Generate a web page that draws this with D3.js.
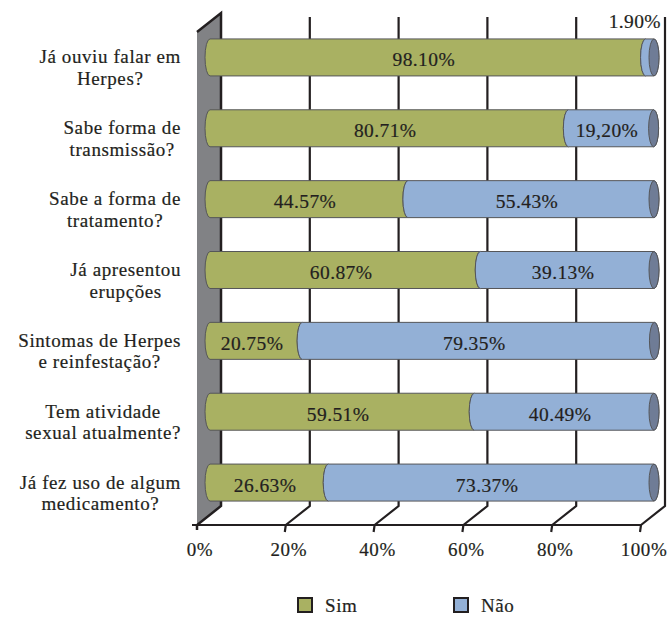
<!DOCTYPE html>
<html>
<head>
<meta charset="utf-8">
<script src="https://cdn.jsdelivr.net/npm/d3@7"></script>
<style>
  body { margin: 0; background: #fff; }
  svg text { font-family: "Liberation Serif", serif; fill: #231f20; stroke: #231f20; stroke-width: 0.2px; }
</style>
</head>
<body>
<div id="chart"></div>
<script>
// Category labels (two lines each)
const categories = [
    ['Já ouviu falar em', 'Herpes?'],
    ['Sabe forma de', 'transmissão?'],
    ['Sabe a forma de', 'tratamento?'],
    ['Já apresentou', 'erupções'],
    ['Sintomas de Herpes', 'e reinfestação?'],
    ['Tem atividade', 'sexual atualmente?'],
    ['Já fez uso de algum', 'medicamento?']
];
const simValues = [98.10, 80.71, 44.57, 60.87, 20.75, 59.51, 26.63];
const naoValues = [1.90, 19.20, 55.43, 39.13, 79.35, 40.49, 73.37];
const simLabels = ['98.10%', '80.71%', '44.57%', '60.87%', '20.75%', '59.51%', '26.63%'];
const naoLabels = ['1.90%', '19,20%', '55.43%', '39.13%', '79.35%', '40.49%', '73.37%'];
const xTicks = [0, 20, 40, 60, 80, 100];
const xTickLabels = ['0%', '20%', '40%', '60%', '80%', '100%'];
const seriesNames = ['Sim', 'Não'];

const colors = { sim: '#a9b162', nao: '#93b0d6', cap: '#6f7c96', wall: '#818285', ink: '#231f20', edge: '#555659' };

const width = 667, height = 617;
// 3D depth offsets: back plane and bar mid plane, relative to the front plane
const DX = 24, DY = -19;
const BX = 13, BY = -11;
const floorY = 525;
const wallTop = 32;

const svg = d3.select('#chart').append('svg')
    .attr('width', width)
    .attr('height', height);

const x = d3.scaleLinear().domain([0, 100]).range([197, 641]);
const y = d3.scaleBand()
    .domain(d3.range(categories.length))
    .range([33, 529])
    .paddingInner(0.478)
    .paddingOuter(0.239);

const rows = categories.map((c, i) => ({ i: i, sim: simValues[i], nao: naoValues[i] }));
const stack = d3.stack().keys(['sim', 'nao'])(rows);

// Gridlines on back wall + diagonal onto the floor + small front tick
const grid = svg.append('g');
xTicks.slice(1).forEach(t => {
    const xf = x(t), xb = x(t) + DX;
    grid.append('path')
        .attr('d', `M${xb},17 L${xb},${floorY + DY} L${xf},${floorY} L${xf - 1},${floorY + 7}`)
        .attr('fill', 'none')
        .attr('stroke', colors.ink)
        .attr('stroke-width', 2.2);
});

// Floor front edge
svg.append('line')
    .attr('x1', x(0) - 5).attr('x2', x(100))
    .attr('y1', floorY).attr('y2', floorY)
    .attr('stroke', colors.ink)
    .attr('stroke-width', 2.2);

// Left wall
svg.append('path')
    .attr('d', `M${x(0)},${wallTop} L${x(0) + DX},${wallTop + DY} L${x(0) + DX},${floorY + DY} L${x(0)},${floorY} L${x(0)},${floorY + 5}`)
    .attr('fill', colors.wall)
    .attr('stroke', colors.ink)
    .attr('stroke-width', 2.5)
    .attr('stroke-linejoin', 'miter');

// Cylinder segments
const ry = y.bandwidth() / 2;
const rx = 5;
function segPath(x0, x1, cy, last) {
    return `M${x0},${cy - ry} L${x1},${cy - ry} A${rx},${ry} 0 0 ${last ? 1 : 0} ${x1},${cy + ry}` +
        ` L${x0},${cy + ry} A${rx},${ry} 0 0 1 ${x0},${cy - ry} Z`;
}

const bars = svg.append('g');
stack.forEach((layer, li) => {
    const last = li === stack.length - 1;
    layer.forEach((d, i) => {
        const cy = y(i) + ry + BY;
        const x0 = x(d[0]) + BX, x1 = x(d[1]) + BX;
        bars.append('path')
            .attr('d', segPath(x0, x1, cy, last))
            .attr('fill', li === 0 ? colors.sim : colors.nao)
            .attr('stroke', colors.edge)
            .attr('stroke-width', 1);
        if (last) {
            bars.append('ellipse')
                .attr('cx', x1).attr('cy', cy)
                .attr('rx', rx).attr('ry', ry)
                .attr('fill', colors.cap)
                .attr('stroke', colors.edge)
                .attr('stroke-width', 1);
        }
    });
});

// Value labels
const valueLabels = [simLabels, naoLabels];
stack.forEach((layer, li) => {
    layer.forEach((d, i) => {
        const cy = y(i) + ry + BY;
        const x0 = x(d[0]) + BX, x1 = x(d[1]) + BX;
        const small = x1 - x0 < 30;
        svg.append('text')
            .attr('x', small ? x1 + 7 : (x0 + x1) / 2 - 4)
            .attr('y', small ? cy - ry - 11 : cy + 9)
            .attr('text-anchor', small ? 'end' : 'middle')
            .attr('font-size', 19.5)
            .attr('letter-spacing', 0.4)
            .text(valueLabels[li][i]);
    });
});

// Category labels: right-aligned block, lines centred
categories.forEach((lines, i) => {
    const cy = y(i) + ry;
    const g = svg.append('g');
    const texts = lines.map((line, k) => g.append('text')
        .attr('y', cy - 5 + k * 21.5)
        .attr('font-size', 19)
        .attr('letter-spacing', 0.6)
        .attr('text-anchor', 'middle')
        .text(line));
    const maxW = d3.max(texts, t => t.node().getComputedTextLength());
    texts.forEach(t => t.attr('x', 181 - maxW / 2));
});

// X tick labels
svg.append('g').selectAll('text')
    .data(xTicks)
    .enter()
    .append('text')
    .attr('x', d => x(d) + 3)
    .attr('y', 556)
    .attr('text-anchor', 'middle')
    .attr('font-size', 19)
    .attr('letter-spacing', 0.6)
    .text((d, i) => xTickLabels[i]);

// Legend
const legend = svg.append('g');
[colors.sim, colors.nao].forEach((c, i) => {
    const lx = 298 + i * 156;
    legend.append('rect')
        .attr('x', lx).attr('y', 598)
        .attr('width', 14).attr('height', 14)
        .attr('fill', c)
        .attr('stroke', colors.ink)
        .attr('stroke-width', 2);
    legend.append('text')
        .attr('x', lx + 27).attr('y', 612)
        .attr('font-size', 19)
        .attr('letter-spacing', 0.6)
        .text(seriesNames[i]);
});
</script>
</body>
</html>
